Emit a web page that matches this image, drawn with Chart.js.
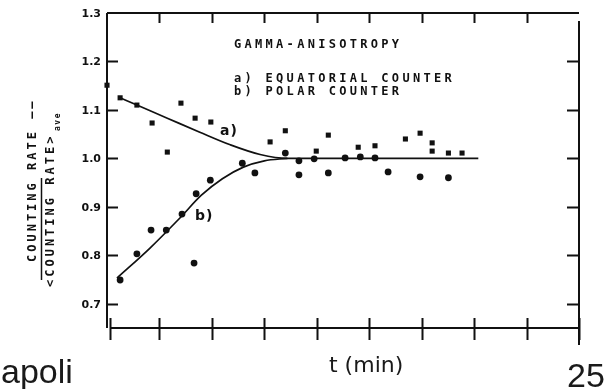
<!DOCTYPE html>
<html>
<head>
<meta charset="utf-8">
<script src="https://cdn.jsdelivr.net/npm/chart.js@4.4.0/dist/chart.umd.min.js"></script>
<style>
  html, body { margin: 0; padding: 0; background: #fff; }
  canvas { display: block; }
</style>
</head>
<body>
<canvas id="myChart" width="611" height="389"></canvas>
<script>
// ============  gamma anisotropy ============ //

// a) equatorial counter
const eqT    = [0, 0.25, 0.57, 0.86, 1.15, 1.41, 1.68, 1.98, 3.11, 3.40, 3.99, 4.22, 4.79, 5.11, 5.69, 5.97, 6.20, 6.20, 6.51, 6.77];
const eqRate = [1.151, 1.125, 1.110, 1.073, 1.013, 1.114, 1.083, 1.075, 1.034, 1.057, 1.015, 1.048, 1.023, 1.026, 1.040, 1.052, 1.032, 1.015, 1.011, 1.011];

// b) polar counter
const polT    = [0.25, 0.57, 0.84, 1.13, 1.43, 1.70, 1.66, 1.97, 2.58, 2.82, 3.40, 3.66, 3.66, 3.95, 4.22, 4.54, 4.83, 5.11, 5.36, 5.97, 6.51];
const polRate = [0.749, 0.803, 0.852, 0.852, 0.885, 0.927, 0.784, 0.955, 0.990, 0.970, 1.011, 0.995, 0.966, 0.999, 0.970, 1.001, 1.003, 1.001, 0.972, 0.962, 0.960];

// curves drawn through the points
const fitAT    = [0.25, 0.57, 1.15, 1.77, 2.35, 2.92, 3.44, 7.08];
const fitARate = [1.125, 1.110, 1.083, 1.054, 1.028, 1.008, 1.000, 1.000];
const fitBT    = [0.19, 0.82, 1.39, 1.80, 2.20, 2.60, 3.00, 3.44];
const fitBRate = [0.753, 0.815, 0.877, 0.924, 0.958, 0.982, 0.995, 1.000];

// axes
const xTicks = [0, 1, 2, 3, 4, 5, 6, 7, 8, 9];
const yTicks = [0.7, 0.8, 0.9, 1.0, 1.1, 1.2, 1.3];
const yLabels = ['0.7', '0.8', '0.9', '1.0', '1.1', '1.2', '1.3'];

const toXY = (xs, ys) => xs.map((x, i) => ({ x: x, y: ys[i] }));

const ink = '#111';

// frame, inward ticks and all the typed text
const framePlugin = {
    id: 'frame',
    afterDraw(chart) {
        const ctx = chart.ctx;
        const xs = chart.scales.x, ys = chart.scales.y;
        const a = chart.chartArea;
        ctx.save();
        ctx.strokeStyle = ink;
        ctx.fillStyle = ink;
        ctx.lineWidth = 2;
        ctx.lineCap = 'butt';

        ctx.beginPath();
        // left, top, right, bottom
        ctx.moveTo(a.left, a.top); ctx.lineTo(a.left, a.bottom);
        ctx.moveTo(a.left, a.top); ctx.lineTo(a.right, a.top);
        ctx.moveTo(a.right, a.top + 8); ctx.lineTo(a.right, a.bottom + 17);
        ctx.moveTo(a.left + 3, a.bottom); ctx.lineTo(a.right, a.bottom);
        ctx.stroke();

        // x ticks: across the bottom axis, down from the top
        ctx.beginPath();
        xTicks.forEach(v => {
            const px = Math.round(xs.getPixelForValue(v)) + 0.5;
            const bx = v === 0 ? px + 3 : px;
            ctx.moveTo(bx, a.bottom - 10); ctx.lineTo(bx, a.bottom + 12);
            if (v > 0 && v < 9) { ctx.moveTo(px, a.top); ctx.lineTo(px, a.top + 10); }
        });
        // y ticks: in from the left and the right
        yTicks.forEach(v => {
            if (v === 1.3) return;
            const py = Math.round(ys.getPixelForValue(v)) + 0.5;
            ctx.moveTo(a.left, py); ctx.lineTo(a.left + 11, py);
            ctx.moveTo(a.right, py); ctx.lineTo(a.right - 12, py);
        });
        ctx.stroke();

        // y tick labels
        ctx.font = 'bold 11px "DejaVu Sans"';
        ctx.textAlign = 'right';
        ctx.textBaseline = 'middle';
        yTicks.forEach((v, i) => {
            ctx.fillText(yLabels[i], a.left - 6, ys.getPixelForValue(v) + 1);
        });

        // legend block
        ctx.font = 'bold 12px "DejaVu Sans Mono"';
        ctx.letterSpacing = '3.3px';
        ctx.textAlign = 'left';
        ctx.fillText('GAMMA-ANISOTROPY', 234, 45);
        ctx.fillText('a) EQUATORIAL COUNTER', 234, 79);
        ctx.fillText('b) POLAR COUNTER', 234, 92);

        // curve labels
        ctx.letterSpacing = '1px';
        ctx.font = 'bold 14px "DejaVu Sans"';
        ctx.fillText('a)', 220, 131);
        ctx.fillText('b)', 195, 216);

        // y axis title, written bottom to top
        ctx.font = 'bold 12px "DejaVu Sans Mono"';
        ctx.letterSpacing = '3px';
        ctx.save();
        ctx.translate(33, 262);
        ctx.rotate(-Math.PI / 2);
        ctx.fillText('COUNTING RATE ––', 0, 0);
        ctx.restore();

        ctx.save();
        ctx.translate(51, 287);
        ctx.rotate(-Math.PI / 2);
        ctx.fillText('<COUNTING RATE>', 0, 0);
        ctx.font = 'bold 8px "DejaVu Sans Mono"';
        ctx.letterSpacing = '1.5px';
        ctx.fillText('ave', 156, 7);
        ctx.restore();

        ctx.lineWidth = 1.5;
        ctx.beginPath();
        ctx.moveTo(41.5, 178); ctx.lineTo(41.5, 280);
        ctx.stroke();

        // slide text under the figure
        ctx.letterSpacing = '0px';
        ctx.textBaseline = 'alphabetic';
        ctx.fillStyle = '#1a1a1a';
        ctx.font = '34px "Liberation Sans"';
        ctx.fillText('apoli', 1, 383);
        ctx.fillText('25', 567, 387);
        ctx.font = '22px "DejaVu Sans"';
        ctx.fillText('t (min)', 329, 372);
        ctx.restore();
    }
};

const myChart = document.getElementById('myChart').getContext('2d');

let gammaChart = new Chart(myChart, {
    type: 'scatter',
    data: {
        datasets: [{
            label: 'a) equatorial',
            data: toXY(eqT, eqRate),
            pointStyle: 'rect',
            pointRadius: 3.6,
            backgroundColor: ink,
            borderColor: ink,
            borderWidth: 0,
            clip: false
        }, {
            label: 'b) polar',
            data: toXY(polT, polRate),
            pointStyle: 'circle',
            pointRadius: 3.4,
            backgroundColor: ink,
            borderColor: ink,
            borderWidth: 0
        }, {
            type: 'line',
            label: 'fit a',
            data: toXY(fitAT, fitARate),
            borderColor: ink,
            borderWidth: 1.7,
            pointRadius: 0,
            cubicInterpolationMode: 'monotone',
            fill: false
        }, {
            type: 'line',
            label: 'fit b',
            data: toXY(fitBT, fitBRate),
            borderColor: ink,
            borderWidth: 1.7,
            pointRadius: 0,
            cubicInterpolationMode: 'monotone',
            fill: false
        }]
    },
    options: {
        responsive: false, // fixed size canvas
        animation: false,
        layout: { padding: { left: 107, right: 32, top: 13, bottom: 61 } },
        plugins: {
            legend: { display: false },
            tooltip: { enabled: false },
            title: { display: false }
        },
        scales: {
            x: { type: 'linear', min: 0, max: 9, display: false },
            y: { type: 'linear', min: 0.65, max: 1.3, display: false }
        }
    },
    plugins: [framePlugin]
});
</script>
</body>
</html>
